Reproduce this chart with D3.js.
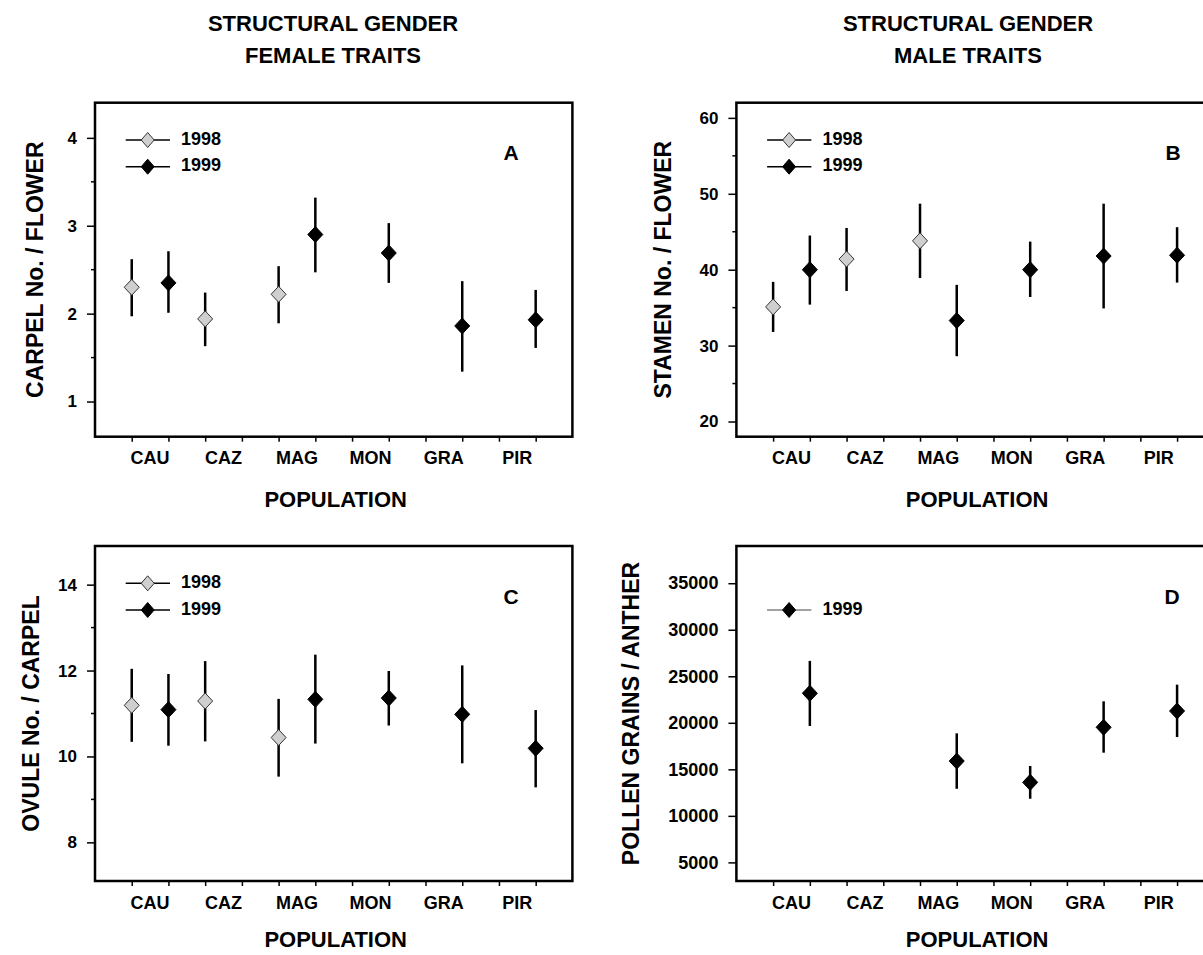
<!DOCTYPE html>
<html lang="en">
<head>
  <meta charset="UTF-8">
  <title>Structural gender - female and male traits</title>
  <script src="https://d3js.org/d3.v7.min.js"></script>
  <style>
    body { margin: 0; background: #fff; }
    text { font-family: "Liberation Sans", Arial, Helvetica, sans-serif; font-weight: bold; fill: #000; }
  </style>
</head>
<body>
  <script>
    const width = 1203, height = 955;

    // populations, each one has a 1998 slot and a 1999 slot on the x axis
    const populations = ["CAU", "CAZ", "MAG", "MON", "GRA", "PIR"];

    // [mean, lower end of bar, upper end of bar]; null = not sampled
    const carpel1998 = [[2.30, 1.97, 2.62], [1.94, 1.63, 2.24], [2.22, 1.89, 2.54], null, null, null];
    const carpel1999 = [[2.35, 2.01, 2.71], null, [2.90, 2.47, 3.32], [2.69, 2.35, 3.03], [1.86, 1.34, 2.37], [1.93, 1.61, 2.27]];

    const stamen1998 = [[35.1, 31.8, 38.4], [41.4, 37.2, 45.5], [43.8, 38.9, 48.7], null, null, null];
    const stamen1999 = [[40.0, 35.4, 44.5], null, [33.3, 28.6, 38.0], [40.0, 36.4, 43.7], [41.8, 34.9, 48.7], [41.9, 38.3, 45.6]];

    const ovule1998 = [[11.19, 10.34, 12.04], [11.29, 10.35, 12.22], [10.44, 9.53, 11.34], null, null, null];
    const ovule1999 = [[11.09, 10.25, 11.92], null, [11.33, 10.30, 12.37], [11.36, 10.72, 11.99], [10.98, 9.84, 12.12], [10.19, 9.28, 11.08]];

    const pollen1999 = [[23170, 19660, 26650], null, [15890, 12910, 18870], [13600, 11840, 15360], [19520, 16790, 22310], [21270, 18470, 24100]];

    const carpelTicks = [1, 2, 3, 4];
    const stamenTicks = [20, 30, 40, 50, 60];
    const ovuleTicks = [8, 10, 12, 14];
    const pollenTicks = [5000, 10000, 15000, 20000, 25000, 30000, 35000];

    const svg = d3.select("body").append("svg")
      .attr("width", width)
      .attr("height", height);

    const frameW = 477.4;

    const panels = [
      { letter: "A", left: 95, top: 102.7, bottom: 436.7, domain: [0.6, 4.4], ticks: carpelTicks, minor: [1.5, 2.5, 3.5],
        s98: carpel1998, s99: carpel1999, ylabel: "CARPEL No. / FLOWER", ylabelX: 37, letterX: 511, tickFont: 17, popY: 501 },
      { letter: "B", left: 736.4, top: 102.7, bottom: 436.7, domain: [18, 62], ticks: stamenTicks, minor: [25, 35, 45, 55],
        s98: stamen1998, s99: stamen1999, ylabel: "STAMEN No. / FLOWER", ylabelX: 665, letterX: 1173, tickFont: 17, popY: 501 },
      { letter: "C", left: 95, top: 546, bottom: 881, domain: [7.1, 14.9], ticks: ovuleTicks, minor: [9, 11, 13],
        s98: ovule1998, s99: ovule1999, ylabel: "OVULE No. / CARPEL", ylabelX: 33, letterX: 511, tickFont: 17, popY: 941 },
      { letter: "D", left: 736.4, top: 546, bottom: 881, domain: [3000, 39000], ticks: pollenTicks, minor: [],
        s98: null, s99: pollen1999, ylabel: "POLLEN GRAINS / ANTHER", ylabelX: 633, letterX: 1172, tickFont: 18, popY: 941 }
    ];

    // top titles
    const titles = [
      { x: 333, lines: ["STRUCTURAL GENDER", "FEMALE TRAITS"] },
      { x: 968, lines: ["STRUCTURAL GENDER", "MALE TRAITS"] }
    ];
    titles.forEach(t => {
      svg.append("g").selectAll("text")
        .data(t.lines)
        .enter().append("text")
        .attr("x", t.x)
        .attr("y", (d, i) => 25 + i * 32)
        .attr("text-anchor", "middle")
        .attr("dominant-baseline", "middle")
        .style("font-size", "22px")
        .text(d => d);
    });

    function diamond(hw, hh) {
      return `M0,${-hh}L${hw},0L0,${hh}L${-hw},0Z`;
    }

    panels.forEach(p => {
      const g = svg.append("g");
      const x = d3.scaleLinear().domain([0, 13]).range([p.left, p.left + frameW]);
      const y = d3.scaleLinear().domain(p.domain).range([p.bottom, p.top]);

      // y axis, major + minor ticks, outward
      const yAxis = g.append("g")
        .attr("transform", `translate(${p.left},0)`)
        .call(d3.axisLeft(y).tickValues(p.ticks).tickSize(8).tickPadding(10).tickFormat(d => d));
      yAxis.select(".domain").remove();
      yAxis.selectAll("line").attr("stroke", "#000").attr("stroke-width", 1.5);
      yAxis.selectAll("text").style("font-size", p.tickFont + "px").attr("fill", "#000");

      g.append("g").selectAll("line")
        .data(p.minor)
        .enter().append("line")
        .attr("x1", p.left - 4).attr("x2", p.left)
        .attr("y1", d => y(d)).attr("y2", d => y(d))
        .attr("stroke", "#000").attr("stroke-width", 1.5);

      // x axis: 12 slot ticks, labels between slot pairs
      const xAxis = g.append("g")
        .attr("transform", `translate(0,${p.bottom})`)
        .call(d3.axisBottom(x).tickValues(d3.range(1, 13)).tickSize(5).tickFormat(""));
      xAxis.select(".domain").remove();
      xAxis.selectAll("line").attr("stroke", "#000").attr("stroke-width", 1.5);

      g.append("g").selectAll("text")
        .data(populations)
        .enter().append("text")
        .attr("x", (d, i) => x(2 * i + 1.5))
        .attr("y", p.bottom + 23)
        .attr("text-anchor", "middle")
        .attr("dominant-baseline", "middle")
        .style("font-size", "18px")
        .text(d => d);

      // frame
      g.append("rect")
        .attr("x", p.left).attr("y", p.top)
        .attr("width", frameW).attr("height", p.bottom - p.top)
        .attr("fill", "none").attr("stroke", "#000").attr("stroke-width", 2.5);

      // axis titles
      g.append("text")
        .attr("transform", `translate(${p.ylabelX},${(p.top + p.bottom) / 2}) rotate(-90)`)
        .attr("text-anchor", "middle")
        .attr("dominant-baseline", "middle")
        .style("font-size", "23px")
        .text(p.ylabel);

      g.append("text")
        .attr("x", p.left + frameW / 2 + 2)
        .attr("y", p.popY)
        .attr("text-anchor", "middle")
        .attr("dominant-baseline", "middle")
        .style("font-size", "22px")
        .text("POPULATION");

      // panel letter
      g.append("text")
        .attr("x", p.letterX)
        .attr("y", p.top + 52)
        .attr("text-anchor", "middle")
        .attr("dominant-baseline", "middle")
        .style("font-size", "21px")
        .text(p.letter);

      // series
      const series = [];
      if (p.s98) series.push({ data: p.s98, offset: 1, fill: "#cfcfcf", stroke: "#333" });
      series.push({ data: p.s99, offset: 2, fill: "#000", stroke: "#000" });

      series.forEach(s => {
        const pts = s.data.map((d, i) => d ? { i, mean: d[0], lo: d[1], hi: d[2] } : null).filter(d => d);
        const sg = g.append("g");
        sg.selectAll("line")
          .data(pts)
          .enter().append("line")
          .attr("x1", d => x(2 * d.i + s.offset)).attr("x2", d => x(2 * d.i + s.offset))
          .attr("y1", d => y(d.lo)).attr("y2", d => y(d.hi))
          .attr("stroke", "#000").attr("stroke-width", 2.5);
        sg.selectAll("path")
          .data(pts)
          .enter().append("path")
          .attr("d", diamond(7.5, 8))
          .attr("transform", d => `translate(${x(2 * d.i + s.offset)},${y(d.mean)})`)
          .attr("fill", s.fill).attr("stroke", s.stroke).attr("stroke-width", 1);
      });

      // legend
      const legendRows = [];
      if (p.s98) legendRows.push({ label: "1998", row: 0, fill: "#cfcfcf", stroke: "#333", lw: 1.5 });
      legendRows.push({ label: "1999", row: 1, fill: "#000", stroke: "#000", lw: p.s98 ? 1.5 : 1 });
      const lg = g.append("g").selectAll("g")
        .data(legendRows)
        .enter().append("g")
        .attr("transform", d => `translate(${p.left},${p.top + 37.3 + d.row * 26.7})`);
      lg.append("line")
        .attr("x1", 30.7).attr("x2", 75)
        .attr("stroke", d => d.row === 1 && !p.s98 ? "#444" : "#000")
        .attr("stroke-width", d => d.lw);
      lg.append("path")
        .attr("d", diamond(6.5, 7.5))
        .attr("transform", "translate(52.7,0)")
        .attr("fill", d => d.fill).attr("stroke", d => d.stroke).attr("stroke-width", 1);
      lg.append("text")
        .attr("x", 86)
        .attr("y", 0)
        .attr("dominant-baseline", "middle")
        .style("font-size", "18px")
        .text(d => d.label);
    });
  </script>
</body>
</html>
